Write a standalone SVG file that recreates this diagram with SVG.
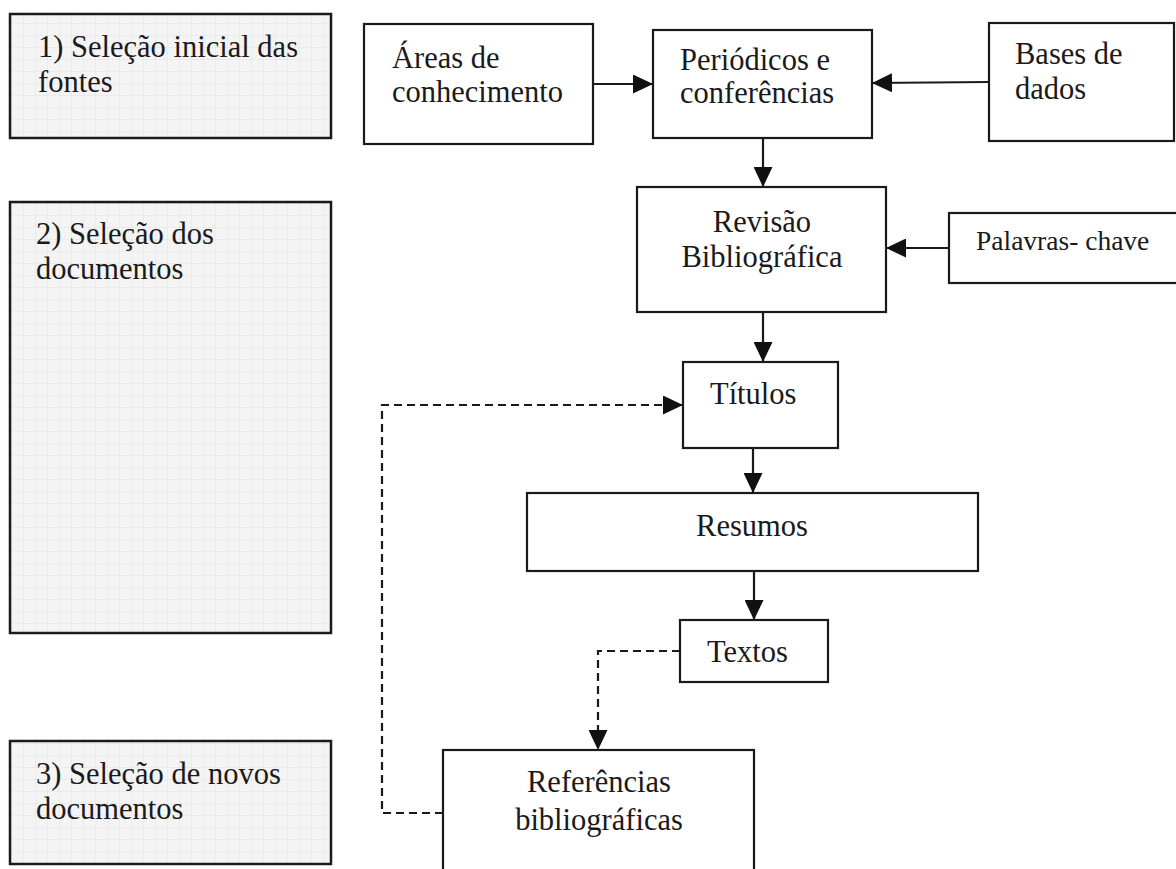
<svg xmlns="http://www.w3.org/2000/svg" width="1176" height="869" viewBox="0 0 1176 869">
<style>
  .box { fill: #ffffff; stroke: #1a1a1a; stroke-width: 2.2; }
  .stage { fill: url(#grid); stroke: #1a1a1a; stroke-width: 2.5; }
  .t { font-family: "Liberation Serif", "Times New Roman", serif; font-size: 30.5px; fill: #1a1a1a; }
  .ts { font-family: "Liberation Serif", "Times New Roman", serif; font-size: 27.5px; fill: #1a1a1a; }
  .c { text-anchor: middle; }
  .con { fill: none; stroke: #1a1a1a; stroke-width: 2.2; }
  .dash { stroke-dasharray: 8 5; }
</style>
<defs>
  <pattern id="grid" width="12" height="12" patternUnits="userSpaceOnUse">
    <rect width="12" height="12" fill="#f4f4f4"/>
    <path d="M12 0 V12 M0 12 H12" stroke="#e2e2e2" stroke-width="1" fill="none"/>
  </pattern>
  <marker id="arr" markerUnits="userSpaceOnUse" markerWidth="21" markerHeight="19" refX="20" refY="9.5" orient="auto">
    <path d="M0,0 L20,9.5 L0,19 Z" fill="#111"/>
  </marker>
</defs>
<rect width="1176" height="869" fill="#ffffff"/>

<g id="stage1">
  <rect class="stage" x="10" y="14" width="321" height="124"/>
  <text class="t" x="38" y="57">1) Seleção inicial das</text>
  <text class="t" x="38" y="92">fontes</text>
</g>
<g id="stage2">
  <rect class="stage" x="10" y="202" width="321" height="431"/>
  <text class="t" x="36" y="244">2) Seleção dos</text>
  <text class="t" x="36" y="279">documentos</text>
</g>
<g id="stage3">
  <rect class="stage" x="10" y="741" width="321" height="123"/>
  <text class="t" x="36" y="784">3) Seleção de novos</text>
  <text class="t" x="36" y="819">documentos</text>
</g>

<g id="areas">
  <rect class="box" x="364" y="24" width="229" height="120"/>
  <text class="t" x="392" y="68">Áreas de</text>
  <text class="t" x="392" y="102">conhecimento</text>
</g>
<g id="periodicos">
  <rect class="box" x="653" y="30" width="219" height="108"/>
  <text class="t" x="680" y="70">Periódicos e</text>
  <text class="t" x="680" y="103">conferências</text>
</g>
<g id="bases">
  <rect class="box" x="989" y="23" width="185" height="118"/>
  <text class="t" x="1015" y="64">Bases de</text>
  <text class="t" x="1015" y="99">dados</text>
</g>
<g id="revisao">
  <rect class="box" x="637" y="187" width="249" height="125"/>
  <text class="t c" x="762" y="232">Revisão</text>
  <text class="t c" x="762" y="267">Bibliográfica</text>
</g>
<g id="palavras">
  <rect class="box" x="949" y="213" width="230" height="70"/>
  <text class="ts" x="976" y="250">Palavras- chave</text>
</g>
<g id="titulos">
  <rect class="box" x="683" y="362" width="155" height="86"/>
  <text class="t" x="710" y="404">Títulos</text>
</g>
<g id="resumos">
  <rect class="box" x="527" y="493" width="451" height="78"/>
  <text class="t c" x="752" y="536">Resumos</text>
</g>
<g id="textos">
  <rect class="box" x="680" y="620" width="148" height="62"/>
  <text class="t" x="707" y="662">Textos</text>
</g>
<g id="referencias">
  <rect class="box" x="443" y="750" width="311" height="130"/>
  <text class="t c" x="599" y="792">Referências</text>
  <text class="t c" x="599" y="830">bibliográficas</text>
</g>

<g id="connectors">
  <line class="con" x1="593" y1="84" x2="653" y2="84" marker-end="url(#arr)"/>
  <line class="con" x1="989" y1="82" x2="872" y2="83" marker-end="url(#arr)"/>
  <line class="con" x1="763" y1="138" x2="763" y2="187" marker-end="url(#arr)"/>
  <line class="con" x1="949" y1="248" x2="886" y2="248" marker-end="url(#arr)"/>
  <line class="con" x1="763" y1="312" x2="763" y2="362" marker-end="url(#arr)"/>
  <line class="con" x1="753" y1="448" x2="753" y2="493" marker-end="url(#arr)"/>
  <line class="con" x1="754" y1="571" x2="754" y2="620" marker-end="url(#arr)"/>
  <polyline class="con dash" points="680,651 598,651 598,750" marker-end="url(#arr)"/>
  <polyline class="con dash" points="443,813 382,813 382,405 683,405" marker-end="url(#arr)"/>
</g>
</svg>
